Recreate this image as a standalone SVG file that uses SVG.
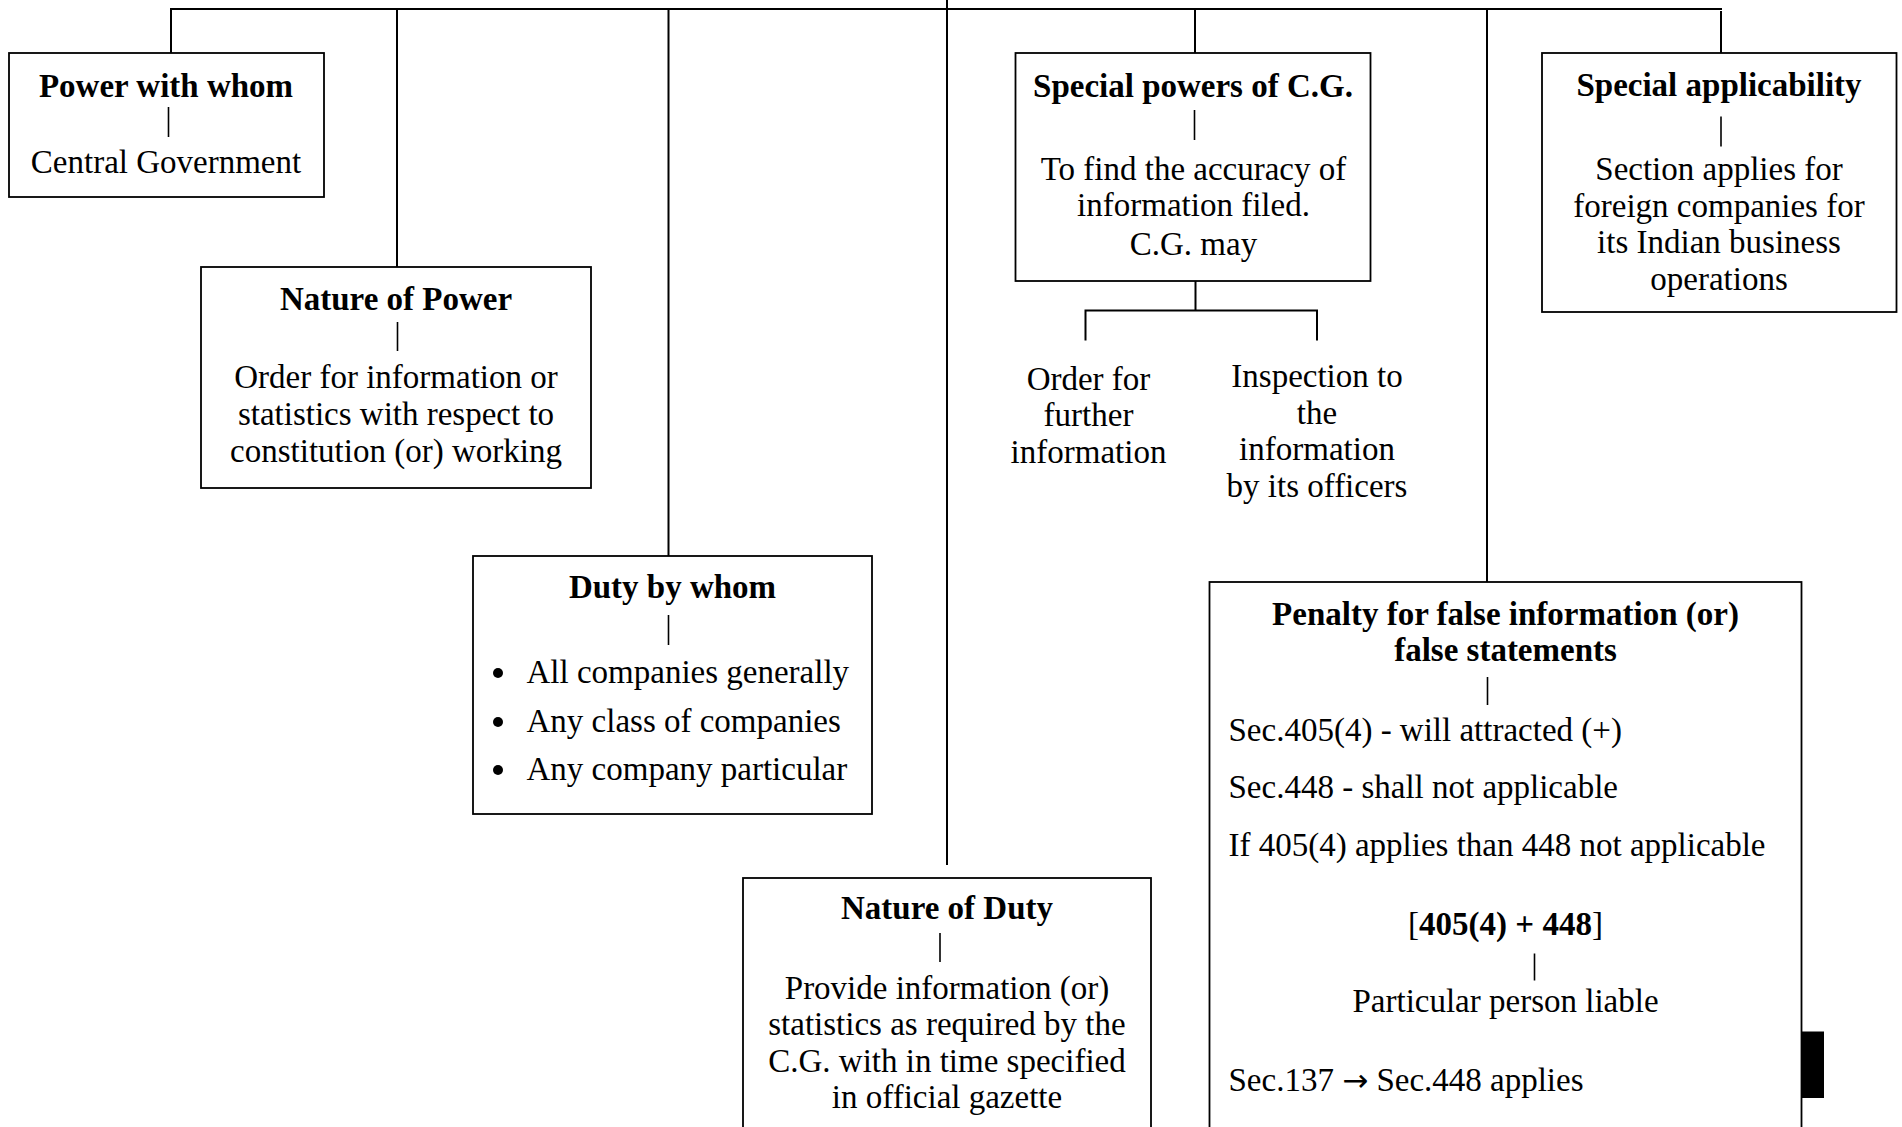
<svg xmlns="http://www.w3.org/2000/svg" width="1902" height="1127" viewBox="0 0 1902 1127">
  <style>
    .box { fill: #ffffff; stroke: #000000; stroke-width: 1.8; }
    .wire { fill: none; stroke: #000000; stroke-width: 2; }
    .tick { fill: none; stroke: #000000; stroke-width: 1.6; }
    text { font-family: "Liberation Serif", "DejaVu Serif", serif; font-size: 33px; fill: #000000; }
    .t { font-weight: bold; }
    .c { text-anchor: middle; }
    .arrow { font-family: "DejaVu Sans", sans-serif; font-size: 31px; }
  </style>
  <rect x="0" y="0" width="1902" height="1127" fill="#ffffff"/>

  <!-- connectors from the central stem -->
  <g id="connectors">
    <line class="wire" x1="947" y1="0" x2="947" y2="865"/>
    <line class="wire" x1="170" y1="9" x2="1722" y2="9"/>
    <line class="wire" x1="171" y1="9" x2="171" y2="53"/>
    <line class="wire" x1="397" y1="9" x2="397" y2="267"/>
    <line class="wire" x1="668.5" y1="9" x2="668.5" y2="556"/>
    <line class="wire" x1="1195" y1="9" x2="1195" y2="53"/>
    <line class="wire" x1="1487" y1="9" x2="1487" y2="582"/>
    <line class="wire" x1="1721" y1="11" x2="1721" y2="53"/>
    <!-- split below special powers -->
    <polyline class="wire" points="1195.5,281 1195.5,310.5"/>
    <polyline class="wire" points="1085.5,340.5 1085.5,310.5 1317,310.5 1317,340.5"/>
  </g>

  <g id="power-with-whom">
    <rect class="box" x="9" y="53" width="315" height="144"/>
    <text class="t c" x="166" y="96.5">Power with whom</text>
    <line class="tick" x1="168.5" y1="107" x2="168.5" y2="137"/>
    <text class="c" x="166" y="173">Central Government</text>
  </g>

  <g id="nature-of-power">
    <rect class="box" x="201" y="267" width="390" height="221"/>
    <text class="t c" x="396" y="310">Nature of Power</text>
    <line class="tick" x1="397.5" y1="322" x2="397.5" y2="351"/>
    <text class="c" x="396" y="387.5">Order for information or</text>
    <text class="c" x="396" y="424.5">statistics with respect to</text>
    <text class="c" x="396" y="461.5">constitution (or) working</text>
  </g>

  <g id="duty-by-whom">
    <rect class="box" x="473" y="556" width="399" height="258"/>
    <text class="t c" x="672.5" y="597.5">Duty by whom</text>
    <line class="tick" x1="668.5" y1="615" x2="668.5" y2="645"/>
    <circle cx="498" cy="673" r="5"/>
    <text x="526.5" y="683">All companies generally</text>
    <circle cx="498" cy="722" r="5"/>
    <text x="526.5" y="732">Any class of companies</text>
    <circle cx="498" cy="770" r="5"/>
    <text x="526.5" y="780">Any company particular</text>
  </g>

  <g id="nature-of-duty">
    <rect class="box" x="743" y="878" width="408" height="270"/>
    <text class="t c" x="947" y="919">Nature of Duty</text>
    <line class="tick" x1="940" y1="933" x2="940" y2="962"/>
    <text class="c" x="947" y="998.5">Provide information (or)</text>
    <text class="c" x="947" y="1035">statistics as required by the</text>
    <text class="c" x="947" y="1071.5">C.G. with in time specified</text>
    <text class="c" x="947" y="1108">in official gazette</text>
  </g>

  <g id="special-powers">
    <rect class="box" x="1015.5" y="53" width="355" height="228"/>
    <text class="t c" x="1193" y="96.5">Special powers of C.G.</text>
    <line class="tick" x1="1194.5" y1="110" x2="1194.5" y2="140"/>
    <text class="c" x="1193.5" y="179.5">To find the accuracy of</text>
    <text class="c" x="1193.5" y="216">information filed.</text>
    <text class="c" x="1193.5" y="254.5">C.G. may</text>
  </g>

  <g id="order-further">
    <text class="c" x="1088.5" y="389.5">Order for</text>
    <text class="c" x="1088.5" y="426">further</text>
    <text class="c" x="1088.5" y="462.5">information</text>
  </g>

  <g id="inspection">
    <text class="c" x="1317" y="387">Inspection to</text>
    <text class="c" x="1317" y="423.5">the</text>
    <text class="c" x="1317" y="460">information</text>
    <text class="c" x="1317" y="496.5">by its officers</text>
  </g>

  <g id="special-applicability">
    <rect class="box" x="1542" y="53" width="354.5" height="259"/>
    <text class="t c" x="1719" y="95.5">Special applicability</text>
    <line class="tick" x1="1721" y1="116.5" x2="1721" y2="146.5"/>
    <text class="c" x="1719" y="180">Section applies for</text>
    <text class="c" x="1719" y="216.5">foreign companies for</text>
    <text class="c" x="1719" y="253">its Indian business</text>
    <text class="c" x="1719" y="289.5">operations</text>
  </g>

  <g id="penalty">
    <rect class="box" x="1209.5" y="582" width="592" height="566"/>
    <text class="t c" x="1505.5" y="624.5">Penalty for false information (or)</text>
    <text class="t c" x="1505.5" y="661">false statements</text>
    <line class="tick" x1="1487.5" y1="677" x2="1487.5" y2="705"/>
    <text x="1228.5" y="740.5">Sec.405(4) - will attracted (+)</text>
    <text x="1228.5" y="798">Sec.448 - shall not applicable</text>
    <text x="1228.5" y="856">If 405(4) applies than 448 not applicable</text>
    <text class="c" x="1505.5" y="935">[<tspan class="t">405(4) + 448</tspan>]</text>
    <line class="tick" x1="1534.5" y1="953.5" x2="1534.5" y2="980.5"/>
    <text class="c" x="1505.5" y="1011.5">Particular person liable</text>
    <text x="1228.5" y="1091">Sec.137 <tspan class="arrow">→</tspan> Sec.448 applies</text>
  </g>

  <rect id="edge-mark" x="1802" y="1031.5" width="22" height="66.5" fill="#000000"/>
</svg>
